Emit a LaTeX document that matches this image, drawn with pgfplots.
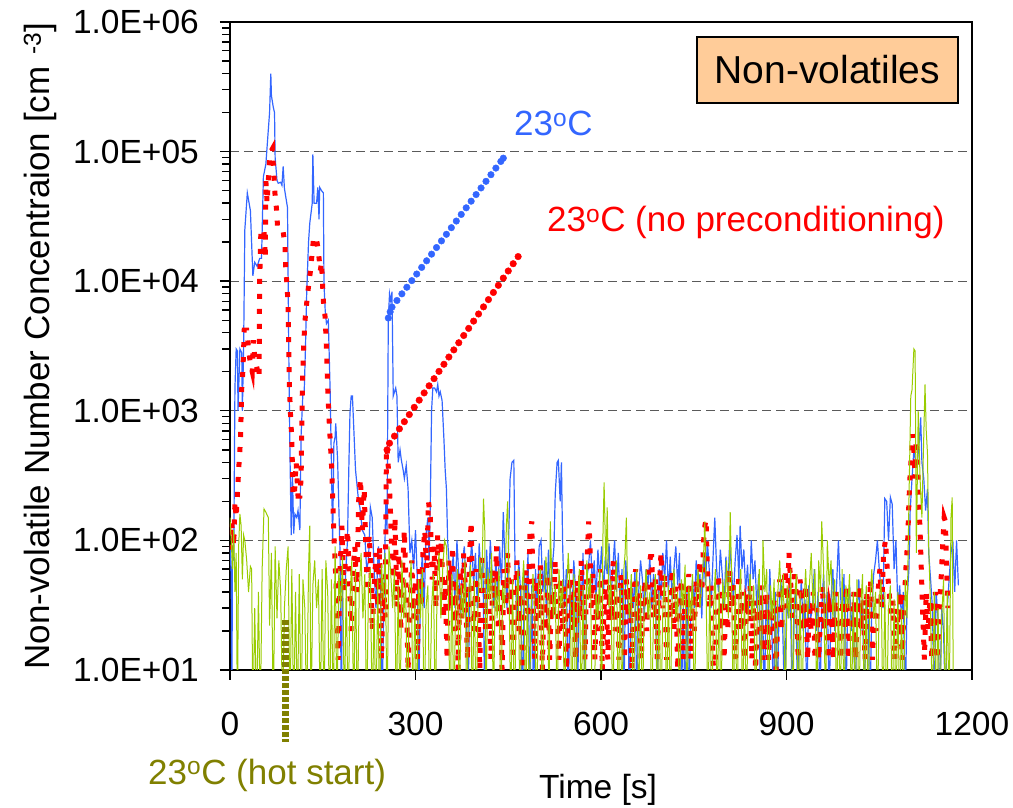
\documentclass[border=0pt]{standalone}
\usepackage{pgfplots}
\pgfplotsset{compat=1.18}
\usepackage{fontspec}
\setmainfont{Liberation Sans}
\definecolor{cblue}{RGB}{51,102,255}
\definecolor{cred}{RGB}{255,0,0}
\definecolor{cgreen}{RGB}{153,204,0}
\definecolor{colive}{RGB}{128,128,0}
\definecolor{cpeach}{RGB}{255,204,153}
\definecolor{cgrid}{RGB}{90,90,90}
\begin{document}
\begin{tikzpicture}
\begin{axis}[
  at={(230pt,137pt)}, anchor=south west,
  scale only axis, width=742pt, height=648pt,
  xmin=0, xmax=1200, ymode=log, ymin=10, ymax=1000000,
  xtick={0,300,600,900,1200}, xticklabels={0,300,600,900,1200},
  ytick={10,100,1000,10000,100000,1000000},
  yticklabels={1.0E+01,1.0E+02,1.0E+03,1.0E+04,1.0E+05,1.0E+06},
  tick pos=left, tick align=outside,
  major tick length=10pt, minor tick length=7.5pt,
  every tick/.style={black, line width=1.4pt},
  axis line style={line width=2.5pt},
  ymajorgrids, major grid style={cgrid, line width=1.3pt, dash pattern=on 9pt off 5pt},
  ticklabel style={font=\fontsize{33.5}{40}\selectfont},
  yticklabel style={inner sep=0pt, xshift=-21pt},
  xticklabel style={inner sep=0pt, yshift=-32pt},
  xlabel={Time [s]},
  xlabel style={font=\fontsize{33.5}{40}\selectfont, inner sep=0pt, at={(axis description cs:0.496,-0.199)}, anchor=base},
  ylabel={Non-volatile Number Concentraion [cm\,\,\textsuperscript{-3}]},
  ylabel style={font=\fontsize{35}{42}\selectfont, inner sep=0pt, at={(axis description cs:-0.2426,0.5)}, anchor=base},
]
% 23 C (blue line)
\addplot[cblue, line width=1.2pt] table {
t v
0 90
2 55
3 5
4 90
6 70
8 1500
10 3000
12 2900
13 1000
16 3000
19 2800
20 1000
22 3000
24 25000
28 48000
33 35000
37 11000
40 14000
44 13000
48 15000
51 15000
54 64000
58 80000
61 127000
64 200000
66 400000
67 270000
70 220000
72 200000
73 90000
76 60000
78 57000
82 58000
84 55000
86 77000
88 52000
93 37000
95 3000
97 460
99 110
101 330
103 113
105 160
108 150
110 170
113 120
115 650
118 1400
120 1400
122 3000
124 8000
127 20000
129 28000
133 40000
134 95000
136 40000
140 40000
142 53000
144 30000
145 53000
148 50000
151 48000
152 9500
154 5900
156 4700
159 5000
162 1400
164 400
166 100
168 560
170 630
171 800
174 420
178 80
180 5
182 50
186 45
190 100
192 330
194 950
196 1300
198 1300
203 350
208 200
210 180
214 120
218 110
221 60
224 70
227 180
230 150
233 60
236 30
240 90
243 50
246 5
249 40
252 200
254 120
256 5000
258 8000
260 7000
262 8300
264 1300
268 1500
270 1300
272 400
275 500
277 420
280 350
282 300
285 380
288 250
291 80
294 100
297 60
300 120
303 50
305 5
308 40
311 80
314 30
317 110
320 150
322 70
324 200
326 1000
328 1500
331 1500
334 1400
336 1600
338 1300
340 1400
343 1200
346 600
348 350
350 250
352 100
355 60
358 45
361 80
364 30
367 100
370 55
373 25
376 70
379 90
382 40
385 5
388 60
391 100
394 45
397 80
400 30
403 95
406 50
409 70
412 5
415 85
418 40
421 100
424 55
427 30
430 75
433 35
436 90
439 45
442 165
445 60
448 30
451 120
453 300
456 400
459 415
461 60
464 25
467 70
470 40
473 5
476 55
479 35
482 80
485 5
488 45
491 5
494 60
497 30
500 90
503 100
506 40
509 70
512 25
515 85
518 35
521 60
524 90
526 230
529 400
531 415
534 200
536 400
538 90
541 30
544 60
547 5
550 45
553 25
556 70
559 40
562 5
565 55
568 30
571 80
574 5
577 50
580 65
583 100
586 45
589 70
592 35
595 85
598 50
601 90
604 40
607 75
610 55
613 95
616 35
619 60
622 100
625 40
628 80
631 30
634 60
637 5
640 70
643 45
646 5
649 50
652 30
655 60
658 5
661 40
664 70
667 50
670 25
673 60
676 45
679 75
682 30
685 55
688 40
691 5
694 60
697 35
700 80
703 50
706 100
709 40
712 75
715 35
718 60
721 90
724 45
727 80
730 5
733 30
736 5
739 40
742 5
745 25
748 50
751 30
754 70
757 40
760 55
763 25
766 80
769 45
772 100
775 60
778 30
781 70
784 150
787 60
790 40
793 85
796 55
799 30
802 75
805 40
808 95
811 60
814 35
817 70
820 110
823 50
825 130
828 60
831 85
834 40
837 65
840 30
843 100
846 50
849 70
852 30
855 55
858 5
861 45
864 5
867 35
870 20
873 60
876 25
879 5
882 40
885 5
888 30
891 50
894 20
897 5
900 35
903 25
906 55
909 5
912 30
915 40
918 5
921 25
924 50
927 20
930 35
933 5
936 45
939 25
942 30
945 60
948 20
951 40
954 5
957 30
960 55
963 25
966 40
969 5
972 35
975 60
978 20
981 45
984 100
987 40
990 25
993 55
996 5
999 30
1002 45
1005 20
1008 35
1011 5
1014 25
1017 50
1020 20
1023 35
1026 5
1029 40
1032 25
1035 5
1038 30
1041 55
1044 70
1047 100
1050 60
1053 40
1056 30
1059 210
1062 200
1065 100
1068 215
1071 190
1074 60
1077 100
1080 30
1083 45
1086 25
1089 40
1092 5
1095 35
1098 60
1100 170
1103 300
1106 500
1109 400
1112 420
1115 600
1117 890
1119 400
1122 300
1125 170
1128 250
1130 80
1133 50
1136 30
1139 5
1142 40
1145 25
1148 5
1151 30
1154 20
1157 5
1160 30
1163 50
1166 80
1169 100
1172 40
1175 100
1178 45
};
% 23 C no preconditioning (red dashed)
\addplot[cred, line width=5pt, dash pattern=on 5pt off 10pt] table {
t v
0 85
2 140
4 120
6 90
8 200
10 150
14 350
17 600
19 1500
21 2100
23 4200
27 4200
30 3000
33 2300
36 2000
38 3500
40 2500
43 2200
45 2000
47 1800
48 10000
50 25000
53 25000
55 25000
57 15000
58 60000
60 40000
62 60000
64 87000
66 100000
69 106000
70 80000
72 55000
73 45000
75 37000
77 26000
80 26000
84 25000
86 24000
89 19000
90 13000
92 9600
94 6600
96 1600
98 900
100 600
102 220
104 220
107 400
110 220
113 220
115 300
117 1500
119 3000
121 4800
123 6000
125 7600
128 10000
131 13000
133 17000
135 21000
138 20000
140 21000
143 17000
146 12000
148 14000
151 7000
154 5200
156 3000
158 1500
160 900
162 600
164 400
166 220
168 110
170 68
172 40
175 12
178 60
181 130
184 40
187 80
190 120
193 50
196 20
199 60
202 90
205 40
208 200
211 300
214 120
217 250
220 80
222 40
225 110
228 60
230 20
233 40
236 80
239 30
242 90
245 12
248 50
251 25
253 530
255 450
257 300
259 200
261 100
264 50
267 150
270 30
273 80
276 20
279 60
282 120
285 40
288 10
291 30
294 70
297 25
300 50
303 12
306 60
309 30
312 80
315 120
318 60
321 200
324 150
327 50
330 90
333 30
336 110
339 60
342 100
345 25
348 50
351 12
354 70
357 30
360 90
363 20
366 45
369 10
372 60
375 25
378 80
381 40
384 12
387 70
390 140
392 40
395 20
398 60
401 30
404 10
407 80
410 40
413 20
416 55
419 30
422 12
425 60
428 35
431 90
434 20
437 45
440 10
443 60
446 30
449 80
452 25
455 50
458 12
461 35
464 70
467 20
470 45
473 10
476 30
479 60
482 25
485 110
488 140
490 40
493 12
496 50
499 25
502 65
505 10
508 35
511 20
514 55
517 12
520 40
523 25
526 70
529 30
532 12
535 50
538 20
541 45
544 10
547 30
550 60
553 20
556 40
559 12
562 50
565 25
568 70
571 35
574 12
577 60
580 140
582 100
584 30
587 55
590 12
593 40
596 20
599 60
602 10
605 30
608 50
611 12
614 45
617 25
620 70
623 20
626 40
629 12
632 55
635 30
638 12
641 50
644 25
647 45
650 10
653 35
656 60
659 20
662 40
665 12
668 30
671 50
674 20
677 60
680 75
682 75
685 25
688 50
691 12
694 40
697 80
700 30
703 55
706 12
709 35
712 25
715 60
718 20
721 45
724 10
727 30
730 50
733 12
736 40
739 25
742 55
745 12
748 35
751 20
754 50
757 30
760 70
763 40
766 100
768 130
770 145
772 60
775 30
778 45
781 12
784 8
787 30
790 55
793 20
796 40
799 12
802 35
805 20
808 60
811 30
814 45
817 12
820 30
823 55
826 20
829 40
832 12
835 30
838 25
841 45
844 12
847 35
850 10
853 30
856 20
859 45
862 12
865 25
868 40
871 12
874 30
877 20
880 35
883 10
886 25
889 50
892 20
895 40
898 60
901 30
904 80
907 45
910 25
913 60
916 35
919 12
922 50
925 30
928 20
931 45
934 12
937 30
940 20
943 40
946 12
949 30
952 12
955 25
958 45
961 20
964 35
967 12
970 30
973 25
976 12
979 40
982 20
985 30
988 12
991 35
994 20
997 45
1000 12
1003 30
1006 20
1009 40
1012 12
1015 30
1018 45
1021 20
1024 35
1027 12
1030 40
1033 25
1036 50
1039 12
1042 30
1045 20
1048 40
1051 60
1054 30
1057 80
1060 100
1063 60
1066 40
1069 25
1072 35
1075 12
1078 30
1081 20
1084 40
1087 12
1090 30
1093 60
1096 100
1098 200
1100 330
1102 450
1104 660
1106 500
1108 300
1110 600
1112 400
1114 200
1116 120
1118 60
1120 30
1123 12
1126 40
1129 20
1132 35
1135 12
1138 25
1141 40
1144 12
1147 30
1150 50
1153 100
1155 150
1157 140
1159 60
1161 30
};
% 23 C hot start (green)
\addplot[cgreen, line width=1pt] table {
t v
0 150
2 100
4 60
6 120
8 40
10 80
12 4
14 90
16 160
18 130
20 50
22 110
24 100
27 70
30 40
33 63
35 60
37 4
40 30
43 4
46 40
49 4
52 60
55 175
58 165
62 150
64 22
67 80
70 4
73 90
76 25
79 70
82 40
85 4
88 30
91 60
94 90
97 4
100 60
103 4
106 40
109 4
112 55
115 4
118 50
121 30
124 4
127 60
129 130
131 4
134 45
137 70
140 30
143 50
146 4
149 60
152 4
155 70
158 40
161 4
164 50
167 4
170 90
173 4
176 60
179 30
182 75
185 4
188 50
191 4
194 35
197 70
200 4
203 60
206 4
209 40
212 80
215 25
218 55
221 4
224 45
227 60
230 4
233 30
236 4
239 50
242 4
245 65
248 35
251 80
254 4
257 90
260 55
263 30
266 60
269 4
272 45
275 4
278 70
281 25
284 50
287 4
290 40
293 70
296 4
299 35
302 4
305 50
308 25
311 60
314 4
317 30
320 45
323 4
326 30
329 55
332 4
335 45
338 80
341 25
344 60
347 100
350 90
353 40
356 4
359 55
362 4
365 35
368 60
371 4
374 45
377 25
380 70
383 4
386 40
389 65
392 4
395 50
398 4
401 30
404 75
407 40
410 210
412 120
414 4
417 60
420 35
423 80
426 4
429 50
432 25
435 60
438 4
441 45
444 30
447 130
449 200
451 60
454 4
457 50
460 4
463 35
466 60
469 4
472 40
475 70
478 4
481 45
484 4
487 30
490 55
493 25
496 4
499 45
502 60
505 4
508 40
511 75
514 35
516 4
518 140
520 60
523 25
526 45
529 4
532 60
535 30
538 50
541 4
544 35
547 80
550 40
553 4
556 55
559 4
562 30
565 60
568 4
571 45
574 4
577 70
580 35
583 55
586 4
589 4
592 40
595 25
598 60
601 4
603 100
605 280
608 60
610 180
613 30
616 50
619 4
622 40
625 70
628 4
631 45
634 4
637 60
639 80
641 150
643 40
646 25
649 55
652 4
655 30
658 60
661 4
664 45
667 4
670 35
673 60
676 25
679 40
682 4
685 30
688 55
691 4
694 40
697 4
700 30
703 55
706 4
709 45
712 4
715 35
718 60
721 25
724 40
727 4
730 50
733 30
736 65
739 4
742 45
745 25
748 55
751 4
754 35
757 60
760 30
763 45
766 80
768 140
770 40
773 4
776 50
779 4
782 30
785 60
788 4
791 45
794 4
797 50
800 30
803 70
806 25
809 165
811 60
814 4
817 45
820 4
823 35
826 60
829 4
832 40
835 4
838 30
841 55
844 25
847 45
850 4
853 35
856 60
859 4
862 100
865 40
868 60
871 4
874 45
877 25
880 50
883 4
886 40
889 70
892 30
895 55
898 4
901 45
904 25
907 60
910 4
913 35
916 55
919 4
922 40
925 4
928 30
931 60
934 25
937 45
940 80
943 30
946 60
949 4
952 70
955 40
957 140
960 60
963 4
966 100
969 45
972 70
975 25
978 50
981 4
984 40
987 4
990 60
993 4
996 45
999 30
1002 55
1005 4
1008 40
1011 4
1014 50
1017 4
1020 30
1023 55
1026 4
1029 45
1032 4
1035 35
1038 60
1041 25
1044 40
1047 4
1050 35
1053 50
1056 4
1059 40
1062 4
1065 30
1068 45
1071 4
1074 35
1077 4
1080 40
1083 4
1086 30
1089 4
1092 50
1095 25
1098 200
1101 1300
1103 1450
1106 3000
1108 2900
1110 80
1113 1000
1116 300
1119 150
1121 400
1124 1600
1126 700
1128 470
1130 90
1133 30
1136 4
1139 40
1142 4
1145 30
1148 4
1151 25
1154 50
1157 4
1160 40
1163 4
1166 150
1168 215
1170 4
};
% blue dots
\addplot[only marks, mark=*, mark size=3.3pt, cblue] table {
t v
256 5200
259 5800
262 6310
270 7100
278 7990
286 8980
294 10100
302 11360
310 12780
318 14370
326 16170
334 18190
342 20460
350 23010
358 25880
366 29110
374 32750
382 36840
390 41440
398 46610
406 52430
414 58980
422 66340
430 74620
438 83940
442 89030
};
% red dots
\addplot[only marks, mark=*, mark size=3.3pt, cred] table {
t v
254 500
258 562
266 638
274 726
282 824
290 935
298 1064
306 1208
314 1374
322 1560
330 1770
338 2014
346 2286
354 2600
362 2951
370 3350
378 3811
386 4325
394 4920
402 5585
410 6339
418 7211
426 8185
434 9290
442 10568
450 11995
458 13646
466 15488
};
\end{axis}
\draw[colive, line width=7pt, dash pattern=on 5pt off 2pt] (285pt,187pt) -- (285pt,65pt);
\draw[line width=2.5pt, fill=cpeach] (697pt,704pt) rectangle (958pt,770pt);
\node[anchor=base, inner sep=0pt, font=\fontsize{39}{46}\selectfont] at (827.5pt,723pt) {Non-volatiles};
\node[anchor=base west, inner sep=0pt, text=cblue, font=\fontsize{35}{42}\selectfont] at (514pt,671pt) {23\textsuperscript{o}C};
\node[anchor=base west, inner sep=0pt, text=cred, font=\fontsize{35}{42}\selectfont] at (547pt,575pt) {23\textsuperscript{o}C (no preconditioning)};
\node[anchor=base west, inner sep=0pt, text=colive, font=\fontsize{35}{42}\selectfont] at (148pt,23pt) {23\textsuperscript{o}C (hot start)};
\pgfresetboundingbox
\path[use as bounding box] (0pt,0pt) rectangle (1013pt,807pt);
\end{tikzpicture}
\end{document}
